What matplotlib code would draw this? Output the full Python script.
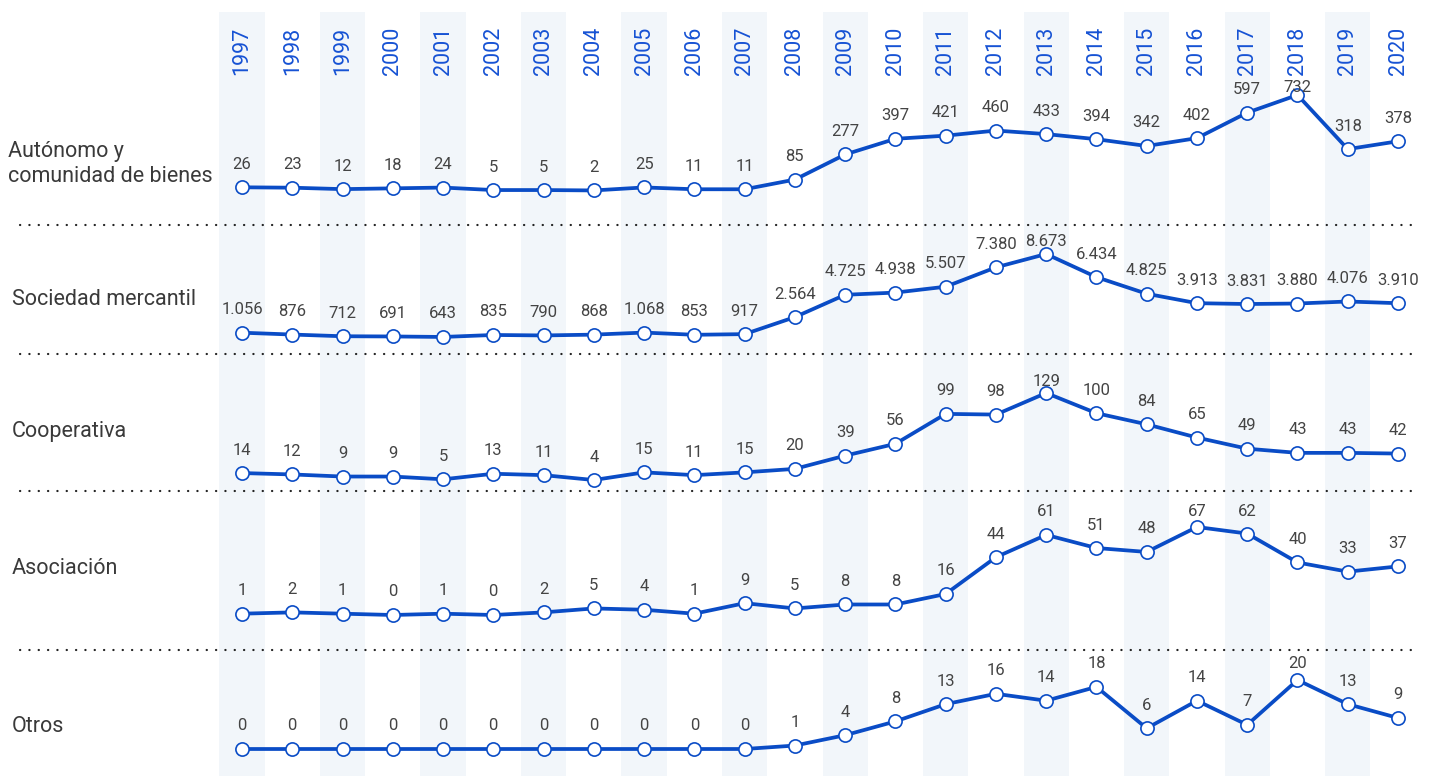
import matplotlib
matplotlib.use("Agg")
import matplotlib.pyplot as plt

plt.rcParams['font.family'] = ['Roboto', 'DejaVu Sans']

# data
years = list(range(1997, 2021))
row_names = ["Autónomo y\ncomunidad de bienes", "Sociedad mercantil", "Cooperativa",
             "Asociación", "Otros"]
autonomo = [26, 23, 12, 18, 24, 5, 5, 2, 25, 11, 11, 85, 277, 397, 421, 460, 433, 394,
            342, 402, 597, 732, 318, 378]
mercantil = [1056, 876, 712, 691, 643, 835, 790, 868, 1068, 853, 917, 2564, 4725, 4938,
             5507, 7380, 8673, 6434, 4825, 3913, 3831, 3880, 4076, 3910]
cooperativa = [14, 12, 9, 9, 5, 13, 11, 4, 15, 11, 15, 20, 39, 56, 99, 98, 129, 100, 84,
               65, 49, 43, 43, 42]
asociacion = [1, 2, 1, 0, 1, 0, 2, 5, 4, 1, 9, 5, 8, 8, 16, 44, 61, 51, 48, 67, 62, 40,
              33, 37]
otros = [0, 0, 0, 0, 0, 0, 0, 0, 0, 0, 0, 1, 4, 8, 13, 16, 14, 18, 6, 14, 7, 20, 13, 9]
series = [autonomo, mercantil, cooperativa, asociacion, otros]

# layout (pixels): band top/bottom, zero line, pixel of max value, label ceiling, row label y
W, H = 1435, 776
bands = [(0, 225), (225, 354), (354, 491), (491, 650), (650, 776)]
zero_px = [190.7, 343.6, 482.8, 615, 749]
max_px = [95, 254, 393, 527, 680]
label_top = [88, 242, 381, 511, 663]
name_y = [164, 300, 432, 568, 726]
name_x = [8, 12, 12, 12, 12]
seps = [225, 354, 491, 650]

blue = "#0a4cc6"
year_blue = "#1652d4"
shade = "#f2f6fa"

# x scale: 1997 at px 242, 2020 at px 1398
step = (1398 - 242) / 23
x0 = 1997 - 242 / step
x1 = 1997 + (W - 242) / step

fig = plt.figure(figsize=(W / 100, H / 100), dpi=100)

bg = fig.add_axes([0, 0, 1, 1])
bg.set_xlim(x0, x1)
bg.set_ylim(H, 0)
bg.axis("off")
for i, y in enumerate(years):
    if i % 2 == 0:
        bg.axvspan(y - 0.45, y + 0.45, ymin=0, ymax=1 - 12 / H, color=shade, lw=0, zorder=0)
    bg.text(y, 75, str(y), rotation=90, ha="center", va="bottom", color=year_blue,
            fontsize=15.5)
for s in seps:
    bg.plot([x0 + 20 / step, x0 + 1414 / step], [s, s], ls=(0, (0.1, 4.1)), lw=1.6,
            color="#222222", dash_capstyle="round")

def fmt(v):
    return f"{v:,}".replace(",", ".")

for k, vals in enumerate(series):
    top, bot = bands[k]
    ax = fig.add_axes([0, 1 - bot / H, 1, (bot - top) / H])
    ax.patch.set_alpha(0)
    ax.axis("off")
    sc = (zero_px[k] - max_px[k]) / max(vals)  # px per unit
    ax.set_xlim(x0, x1)
    ax.set_ylim((zero_px[k] - bot) / sc, (zero_px[k] - top) / sc)
    ax.plot(years, vals, color=blue, lw=2.7, marker="o", ms=9.5, mfc="white",
            mec=blue, mew=1.2, zorder=3, clip_on=False)
    ceil_v = (zero_px[k] - label_top[k]) / sc
    for x, v in zip(years, vals):
        ly = min(v + 23 / sc, ceil_v)
        ax.text(x, ly, fmt(v), ha="center", va="center", color="#444444",
                fontsize=12, zorder=4)
    fig.text(name_x[k] / W, 1 - name_y[k] / H, row_names[k], ha="left", va="center",
             color="#3a3a3a", fontsize=15.5, linespacing=1.3)

fig.savefig("out.png", dpi=100)
